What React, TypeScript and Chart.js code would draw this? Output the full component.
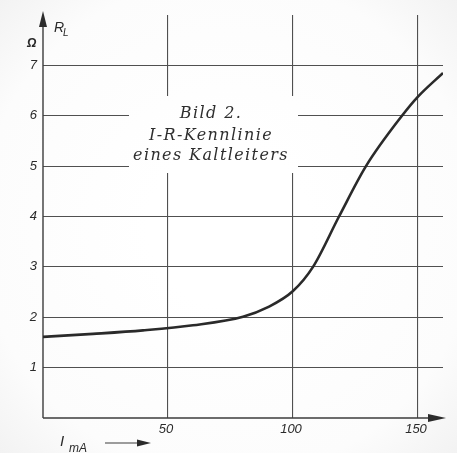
import React, { useEffect, useRef } from "react";
import { Chart, registerables } from "chart.js";

Chart.register(...registerables);

const currentMA = [0, 20, 40, 60, 80, 90, 100, 108, 118.4, 129.2, 143.6, 150, 160];
const resistanceOhm = [1.61, 1.67, 1.74, 1.84, 2.01, 2.2, 2.52, 3.0, 4.0, 5.0, 6.0, 6.38, 6.85];
const xTickValues = [50, 100, 150];
const xTickLabels = ["50", "100", "150"];
const yTickValues = [1, 2, 3, 4, 5, 6, 7];
const yTickLabels = ["1", "2", "3", "4", "5", "6", "7"];
const captionLines = ["Bild 2.", "I-R-Kennlinie", "eines Kaltleiters"];

const W = 457;
const H = 453;

function bg(ctx: CanvasRenderingContext2D) {
  const g = ctx.createRadialGradient(W / 2, H / 2, 80, W / 2, H / 2, 340);
  g.addColorStop(0, "#ffffff");
  g.addColorStop(0.65, "#fcfcfc");
  g.addColorStop(1, "#f0f0f0");
  return g;
}

const decor = {
  id: "decor",
  beforeDraw(chart: any) {
    const ctx = chart.ctx as CanvasRenderingContext2D;
    ctx.save();
    ctx.fillStyle = bg(ctx);
    ctx.fillRect(0, 0, W, H);
    ctx.restore();
  },
  beforeDatasetsDraw(chart: any) {
    const ctx = chart.ctx as CanvasRenderingContext2D;
    const xs = chart.scales.x;
    const ys = chart.scales.y;
    const x0 = xs.getPixelForValue(0);
    const y0 = ys.getPixelForValue(0);
    ctx.save();
    // caption box gap in grid
    ctx.fillStyle = bg(ctx);
    ctx.fillRect(129, 96, 169, 77);
    // caption text
    ctx.fillStyle = "#2e2e2e";
    ctx.font = "italic 16px 'DejaVu Serif'";
    (ctx as any).letterSpacing = "1.4px";
    ctx.textAlign = "center";
    ctx.textBaseline = "alphabetic";
    const baselines = [118, 140, 160];
    captionLines.forEach((t, i) => ctx.fillText(t, 211, baselines[i]));
    (ctx as any).letterSpacing = "0px";

    // axes
    ctx.strokeStyle = "#3c3c3c";
    ctx.fillStyle = "#2c2c2c";
    ctx.lineWidth = 1.4;
    ctx.beginPath();
    ctx.moveTo(x0, y0);
    ctx.lineTo(x0, 24);
    ctx.moveTo(x0, y0);
    ctx.lineTo(430, y0);
    ctx.stroke();
    // y arrow
    ctx.beginPath();
    ctx.moveTo(x0, 11);
    ctx.lineTo(x0 - 4, 27);
    ctx.lineTo(x0 + 4, 27);
    ctx.closePath();
    ctx.fill();
    // x arrow
    ctx.beginPath();
    ctx.moveTo(446, y0);
    ctx.lineTo(428, y0 - 4);
    ctx.lineTo(428, y0 + 4);
    ctx.closePath();
    ctx.fill();

    // tick labels
    ctx.fillStyle = "#2a2a2a";
    ctx.font = "italic 13px 'Liberation Sans'";
    ctx.textAlign = "right";
    ctx.textBaseline = "middle";
    yTickValues.forEach((v, i) => ctx.fillText(yTickLabels[i], 37, ys.getPixelForValue(v)));
    ctx.textAlign = "center";
    ctx.textBaseline = "top";
    xTickValues.forEach((v, i) => ctx.fillText(xTickLabels[i], xs.getPixelForValue(v) - 2, y0 + 5));

    // axis titles
    ctx.textAlign = "left";
    ctx.textBaseline = "alphabetic";
    ctx.font = "italic bold 12px 'Liberation Sans'";
    ctx.fillText("Ω", 27, 47);
    ctx.font = "italic 14px 'Liberation Sans'";
    ctx.fillText("R", 54, 32);
    ctx.font = "italic 10px 'Liberation Sans'";
    ctx.fillText("L", 63, 36);
    ctx.font = "italic 15px 'Liberation Sans'";
    ctx.fillText("I", 60, 446);
    ctx.font = "italic 12px 'Liberation Sans'";
    ctx.fillText("mA", 69, 452);
    // arrow after I_mA
    ctx.lineWidth = 1.2;
    ctx.beginPath();
    ctx.moveTo(105, 443);
    ctx.lineTo(140, 443);
    ctx.stroke();
    ctx.beginPath();
    ctx.moveTo(151, 443);
    ctx.lineTo(137, 439.5);
    ctx.lineTo(137, 446.5);
    ctx.closePath();
    ctx.fill();
    ctx.restore();
  },
};

export default function App() {
  const ref = useRef<HTMLCanvasElement | null>(null);
  useEffect(() => {
    document.body.style.margin = "0";
    const canvas = ref.current!;
    const chart = new Chart(canvas, {
      type: "line",
      data: {
        datasets: [
          {
            data: currentMA.map((x, i) => ({ x, y: resistanceOhm[i] })),
            borderColor: "#2a2a2a",
            borderWidth: 2.6,
            pointRadius: 0,
            cubicInterpolationMode: "monotone",
            fill: false,
          },
        ],
      },
      options: {
        responsive: false,
        animation: false,
        layout: { padding: { left: 43, right: 14, top: 15, bottom: 35 } },
        plugins: { legend: { display: false }, tooltip: { enabled: false } },
        scales: {
          x: {
            type: "linear",
            min: 0,
            max: 160,
            afterBuildTicks: (s: any) => {
              s.ticks = xTickValues.map((v) => ({ value: v }));
            },
            ticks: { display: false },
            grid: { color: "#505050", lineWidth: 1.1, drawTicks: false },
            border: { display: false },
          },
          y: {
            type: "linear",
            min: 0,
            max: 8,
            afterBuildTicks: (s: any) => {
              s.ticks = yTickValues.map((v) => ({ value: v }));
            },
            ticks: { display: false },
            grid: { color: "#505050", lineWidth: 1.1, drawTicks: false },
            border: { display: false },
          },
        },
      },
      plugins: [decor],
    } as any);
    return () => chart.destroy();
  }, []);
  return (
    <div style={{ position: "fixed", left: 0, top: 0, width: W, height: H }}>
      <canvas ref={ref} width={W} height={H} style={{ width: W, height: H, display: "block" }} />
    </div>
  );
}
